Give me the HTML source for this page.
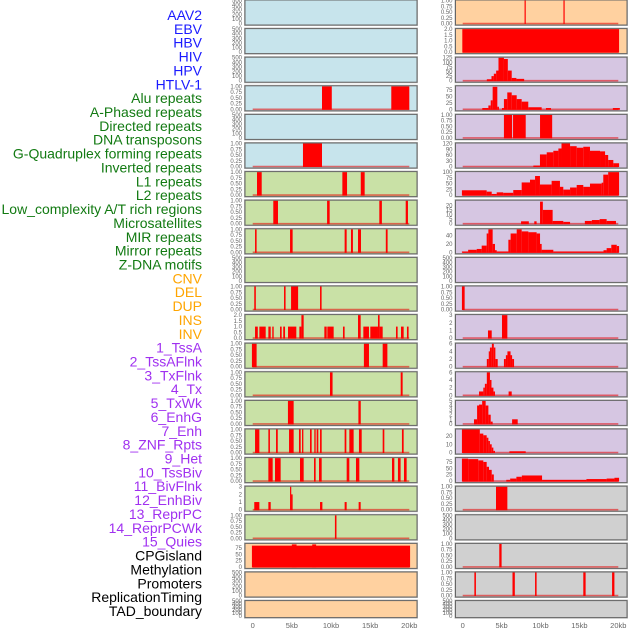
<!DOCTYPE html>
<html><head><meta charset="utf-8"><style>
body{margin:0;background:#fff;width:630px;height:630px;overflow:hidden}
svg{display:block}
.lab{font-family:"Liberation Sans",sans-serif;font-size:14px}
.tk{font-family:"Liberation Sans",sans-serif;font-size:6px;fill:#666}
.xt{font-family:"Liberation Sans",sans-serif;font-size:7.5px;fill:#666}
</style></head><body>
<svg id="chart" width="630" height="630" viewBox="0 0 630 630"></svg>
<script>
const labels=["AAV2","EBV","HBV","HIV","HPV","HTLV-1","Alu repeats","A-Phased repeats","Directed repeats","DNA transposons","G-Quadruplex forming repeats","Inverted repeats","L1 repeats","L2 repeats","Low_complexity A/T rich regions","Microsatellites","MIR repeats","Mirror repeats","Z-DNA motifs","CNV","DEL","DUP","INS","INV","1_TssA","2_TssAFlnk","3_TxFlnk","4_Tx","5_TxWk","6_EnhG","7_Enh","8_ZNF_Rpts","9_Het","10_TssBiv","11_BivFlnk","12_EnhBiv","13_ReprPC","14_ReprPCWk","15_Quies","CPGisland","Methylation","Promoters","ReplicationTiming","TAD_boundary"];
const labelGroups=[6,13,5,15,5];
const groupColors=["#1a1aff","#127a12","#ffa500","#a030f0","#000000"];
const xTicks=[0,5,10,15,20];
const xTickLabels=["0","5kb","10kb","15kb","20kb"];
const T01=[0,0.25,0.5,0.75,1];const T500=[0,100,200,300,400,500];
// left column panels
const leftBg=["#c7e4ec","#c7e4ec","#c7e4ec","#c7e4ec","#c7e4ec","#c7e4ec","#c9e1a6","#c9e1a6","#c9e1a6","#c9e1a6","#c9e1a6","#c9e1a6","#c9e1a6","#c9e1a6","#c9e1a6","#c9e1a6","#c9e1a6","#c9e1a6","#c9e1a6","#ffd1a0","#ffd1a0","#ffd1a0"];
const rightBg=["#ffd1a0","#ffd1a0","#d6c6e2","#d6c6e2","#d6c6e2","#d6c6e2","#d6c6e2","#d6c6e2","#d6c6e2","#d6c6e2","#d6c6e2","#d6c6e2","#d6c6e2","#d6c6e2","#d6c6e2","#d6c6e2","#d6c6e2","#d0d0d0","#d0d0d0","#d0d0d0","#d0d0d0","#d0d0d0"];
const leftMax=[500,500,500,1,500,1,1,1,1,500,1,2,1,1,1,1,1,3,1,92,500,500];
const rightMax=[1,2,125,90,1,120,100,25,55,500,1,3,6,6,5,28,90,1,500,1,1,500];
const leftTicks=[T500,T500,T500,T01,T500,T01,T01,T01,T01,T500,T01,[0,0.5,1,1.5,2],T01,T01,T01,T01,T01,[0,1,2,3],T01,[0,25,50,75],T500,T500];
const rightTicks=[T01,[0,0.5,1,1.5,2],[0,25,50,75,100,125],[0,25,50,75],T01,[0,30,60,90,120],[0,25,50,75,100],[0,5,10,15,20],[0,20,40],T500,T01,[0,1,2,3],[0,2,4,6],[0,2,4,6],[0,1,2,3,4,5],[0,10,20],[0,25,50,75],T01,T500,T01,T01,T500];
const b=(z)=>+((z-98)/23.5).toFixed(2);
const leftBars=[[],[],[],
 [[8.85,10.1,1],[17.7,20,1]],[],
 [[6.42,8.85,1]],
 [[0.55,1.15,1],[11.45,12.05,1],[13.8,14.3,1]],
 [[2.63,3.23,1],[9.5,9.83,1],[16.17,16.5,1],[19.54,19.83,1]],
 [[0.3,0.5,1],[4.77,5.1,1],[11.74,12.0,1],[12.55,12.8,1],[13.45,13.83,1],[17.0,17.23,1]],
 [],
 [[0.2,0.4,1],[4.0,4.2,1],[4.9,5.8,1],[8.6,8.8,1]],
 [[0.3,0.65,1],[0.85,1.66,1],[2.0,2.3,1],[2.5,2.68,1],[3.49,3.7,1],[3.9,4.13,1],[4.51,5.57,1],[5.96,6.22,1],[6.22,6.51,2],[9.15,9.45,1],[9.53,10.34,1],[11.53,11.74,1],[13.45,13.79,2],[14.13,14.85,1],[15.02,16.0,1],[16.0,16.21,2],[16.21,16.6,1],[18.3,18.51,1],[18.94,19.28,1],[19.7,19.91,1]],
 [[-0.1,0.5,1],[14.2,14.85,1],[16.6,17.2,1]],
 [[9.87,10.2,1],[18.9,19.15,1]],
 [[4.5,5.23,1],[13.5,13.8,1]],
 [[0.3,0.85,1],[2.0,2.2,1],[2.98,3.2,1],[4.64,5.23,1],[5.91,6.13,1],[6.3,6.47,1],[7.32,7.53,1],[7.87,8.04,1],[8.17,8.38,1],[8.6,8.81,1],[11.74,11.96,1],[12.34,12.89,1],[13.57,13.92,1],[16.6,16.81,1],[19.06,19.28,1]],
 [[2.0,2.55,1],[2.85,3.57,1],[6.04,6.51,1],[7.83,8.04,1],[8.47,8.81,1],[12.0,12.34,1],[13.19,13.62,1],[17.79,18.09,1],[18.55,18.89,1],[19.32,19.66,1]],
 [[0.2,0.85,1],[2.0,2.3,1],[4.77,4.9,3],[4.9,5.1,2],[8.6,8.9,1],[11.74,12.0,1],[13.53,13.79,1]],
 [[10.5,10.7,1]],
 [[-0.1,20.1,85],[5.0,5.6,90],[7.6,8.1,90]],
 [],[]];
const rightBars=[
 [[7.95,8.1,1],[12.95,13.1,1]],
 [[-0.05,20.1,2]],
 [[3.1,3.7,8],[3.7,4.0,25],[4.0,4.3,38],[4.3,4.6,55],[4.6,5.3,125],[5.3,5.8,118],[5.8,6.3,55],[6.3,6.9,15],[6.9,7.9,10]],
 [[2.52,3.3,5],[3.3,3.6,15],[3.6,3.85,35],[3.85,4.45,88],[4.45,4.66,10],[5.05,5.3,5],[5.3,5.73,40],[5.73,6.3,66],[6.3,6.94,55],[6.94,7.58,40],[7.58,8.43,30],[8.43,10.15,8],[10.7,11.35,5],[19.3,20.2,5]],
 [[5.3,6.35,1],[6.47,8.1,1],[9.94,11.5,1]],
 [[9.08,9.93,5],[9.93,10.8,63],[10.8,11.65,74],[11.65,12.3,82],[12.3,12.7,94],[12.7,13.8,120],[13.8,14.65,106],[14.65,15.5,98],[15.5,16.36,103],[16.36,17.65,82],[17.65,18.3,79],[18.3,18.7,60],[18.7,19.36,34],[19.36,20.1,17]],
 [[-0.1,3.08,21],[3.08,3.73,15],[3.73,4.37,5],[4.37,5.2,12],[5.2,6.5,10],[6.5,7.58,22],[7.58,8.65,55],[8.65,9.3,67],[9.3,9.93,83],[9.93,11.43,46],[11.43,12.5,62],[12.5,12.93,36],[12.93,13.8,24],[13.8,14.65,33],[14.65,15.5,44],[15.5,16.36,36],[16.36,17.86,50],[17.86,18.07,54],[18.07,18.7,89],[18.7,20.1,100]],
 [[7.5,8.5,2.6],[9.2,9.5,2.6],[9.94,10.3,24],[10.3,11.56,15],[11.56,12.93,3],[12.93,13.8,2],[15.7,16.6,3],[16.6,17.6,4],[17.6,18.5,5],[18.5,19.7,3]],
 [[-0.1,0.7,2],[0.7,1.8,6],[1.8,2.44,8],[2.44,3.08,16],[3.08,3.3,45],[3.3,3.85,55],[3.85,4.15,20],[4.15,4.37,5],[4.37,5.87,2],[5.87,6.16,30],[6.16,6.94,45],[6.94,7.58,55],[7.58,8.44,50],[8.44,9.5,48],[9.5,9.94,45],[9.94,10.15,20],[10.15,11.65,6],[11.65,18.1,2],[18.1,18.5,5],[18.5,19.1,10],[19.1,19.8,18],[19.8,20.1,15]],
 [],
 [[-0.1,0.25,1]],
 [[3.25,3.73,1],[5.05,5.74,3]],
 [[3.1,3.35,2],[3.35,3.5,4],[3.5,3.75,5],[3.75,4.0,6],[4.0,4.2,5],[4.2,4.5,2],[5.3,5.55,2],[5.55,5.75,3],[5.75,6.15,4],[6.15,6.35,3],[6.35,6.6,2]],
 [[2.1,2.65,1],[2.65,2.85,2],[2.85,3.1,3],[3.1,3.5,6],[3.5,3.7,4],[3.7,3.95,2],[3.95,4.15,1],[5.9,6.3,1]],
 [[1.45,1.85,1],[1.85,2.1,4],[2.1,2.5,4.2],[2.5,2.95,5],[2.95,3.3,4],[3.3,3.6,2],[3.6,3.85,0.5],[6.35,7.07,1]],
 [[-0.1,2.2,28],[2.2,2.65,23],[2.65,3.08,21],[3.08,3.3,18],[3.3,3.5,14],[3.5,3.73,10],[3.73,3.94,6],[3.94,4.15,2],[6.0,8.1,1.5]],
 [[-0.1,0.7,88],[0.7,2.0,86],[2.0,2.65,81],[2.65,3.08,75],[3.08,3.38,56],[3.38,3.73,44],[3.73,4.0,26],[5.6,6.1,5],[6.1,6.9,10],[6.9,7.6,17],[7.6,10.2,22],[10.2,15.9,5],[15.9,18.5,8],[18.5,19.5,10],[19.5,20.1,13]],
 [[4.28,5.74,1]],
 [],
 [[4.7,5.0,1]],
 [[1.5,1.7,1],[6.4,6.7,1],[9.3,9.5,1],[15.5,15.8,1],[19.2,19.5,1]],
 []];

const NS="http://www.w3.org/2000/svg";
const svg=document.getElementById('chart');
function mk(tag,attrs,parent){const e=document.createElementNS(NS,tag);for(const k in attrs)e.setAttribute(k,attrs[k]);(parent||svg).appendChild(e);return e;}
// labels
let li=0;
labelGroups.forEach((n,g)=>{for(let i=0;i<n;i++){const t=mk('text',{x:202,y:15+li*13.86+5,'text-anchor':'end',class:'lab',fill:groupColors[g]});t.textContent=labels[li];


li++;}});
const cols=[{x0:245,w:172,k0:252.7,ks:7.83,bg:leftBg,mx:leftMax,tk:leftTicks,bars:leftBars,nm:'left'},
            {x0:455.5,w:171.5,k0:462.7,ks:7.78,bg:rightBg,mx:rightMax,tk:rightTicks,bars:rightBars,nm:'right'}];
const nRows=22;
cols.forEach(c=>{
 const xs=k=>c.k0+k*c.ks;
 for(let r=0;r<nRows;r++){
  const top=r*28.6, h=(r==nRows-1)?17:25;
  const g=mk('g',{});
  
  
  mk('rect',{x:c.x0-0.5,y:top-0.5,width:c.w+1,height:h+1,fill:'none',stroke:'#bbb','stroke-width':1},g);
  mk('rect',{x:c.x0,y:top,width:c.w,height:h,fill:c.bg[r]},g);
  const mx=c.mx[r];
  const ys=v=>top+h-1.5-v/mx*(h-2);
  const bars=c.bars[r];
  if(bars.length){
   const zl=mk('line',{x1:xs(0),x2:xs(20),y1:ys(0),y2:ys(0),stroke:'rgba(230,0,0,0.55)','stroke-width':1.6},g);
   
   
  }
  bars.forEach(d=>{
   const x1=Math.max(xs(d[0]),c.x0),x2=Math.min(xs(d[1]),c.x0+c.w);
   const y=Math.max(ys(d[2]),top);
   const rr=mk('rect',{x:x1,y:y,width:Math.max(x2-x1,1.2),height:ys(0)-y+0.5,fill:'#ff0000'},g);
   
   
  });
  mk('rect',{x:c.x0,y:top,width:c.w,height:h,fill:'none',stroke:'#666','stroke-width':1},g);
  c.tk[r].forEach(v=>{
   const t=mk('text',{x:c.x0-3,y:ys(v)+2,'text-anchor':'end',class:'tk'},g);
   t.textContent=(mx<=2&&c.tk[r].length==5&&mx==1)?v.toFixed(2):(mx==2?v.toFixed(1):String(v));
   
   
  });
 }
 xTicks.forEach((k,i)=>{
  const t=mk('text',{x:xs(k),y:628,'text-anchor':'middle',class:'xt'});
  t.textContent=xTickLabels[i];
  
  
 });
});
</script>
</body></html>
